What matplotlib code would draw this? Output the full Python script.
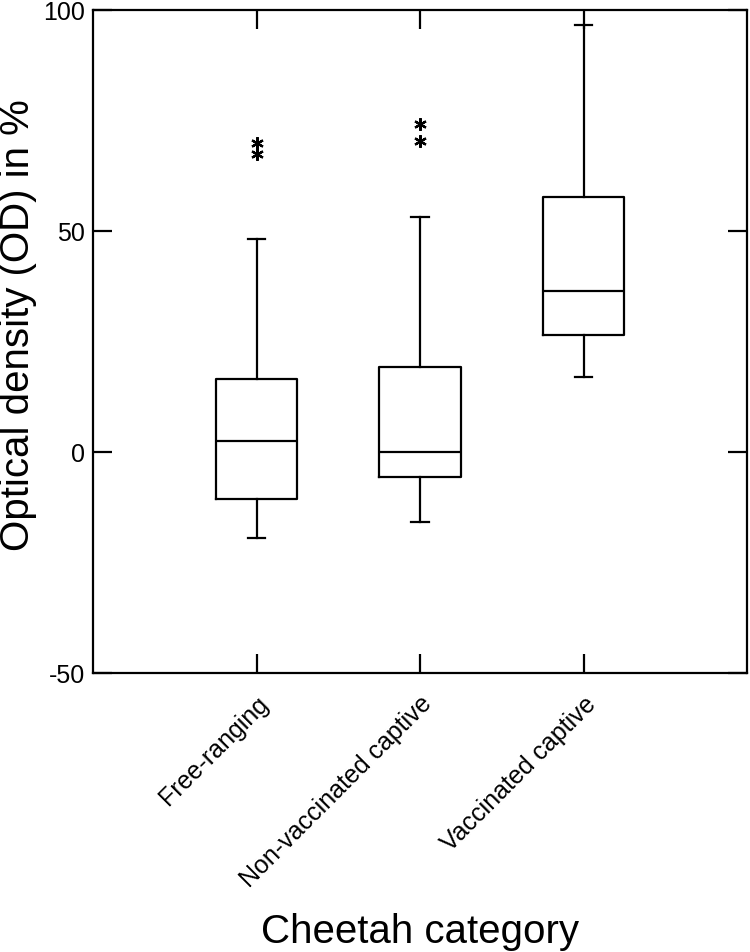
import matplotlib
matplotlib.use("Agg")
import matplotlib.pyplot as plt

categories = ["Free-ranging", "Non-vaccinated captive", "Vaccinated captive"]
whisker_low = [-19.5, -15.8, 17.0]
q1 = [-10.7, -5.7, 26.5]
median = [2.5, 0.0, 36.4]
q3 = [16.6, 19.2, 57.6]
whisker_high = [48.2, 53.2, 96.7]
outliers = [[70.0, 67.4], [74.1, 70.4], []]

plt.rcParams['font.family'] = ['Liberation Sans', 'DejaVu Sans']

fig = plt.figure(figsize=(7.5, 9.53), dpi=100)
ax = fig.add_axes([0.124, 0.2928, 0.872, 0.6957])

stats = []
for i, c in enumerate(categories):
    stats.append(dict(label=c, whislo=whisker_low[i], q1=q1[i], med=median[i],
                      q3=q3[i], whishi=whisker_high[i], fliers=outliers[i]))

lw = 1.6
ax.bxp(stats, positions=[1, 2, 3], widths=0.5, capwidths=0.11,
       boxprops=dict(color='black', linewidth=lw),
       whiskerprops=dict(color='black', linewidth=lw),
       capprops=dict(color='black', linewidth=lw),
       medianprops=dict(color='black', linewidth=lw),
       flierprops=dict(marker=(6, 2, 0), markersize=9, markeredgecolor='black',
                       markeredgewidth=1.6, linestyle='none'))

ax.set_xlim(0, 4)
ax.set_ylim(-50, 100)
ax.set_yticks([-50, 0, 50, 100])
ax.set_yticklabels(["-50", "0", "50", "100"])
ax.set_xticks([1, 2, 3])
ax.set_xticklabels(categories, rotation=45, ha='right', va='top',
                   rotation_mode='anchor', fontsize=18)
ax.tick_params(axis='both', direction='in', length=14, width=lw,
               top=True, right=True, labelsize=18, pad=6)
ax.tick_params(axis='x', labelsize=18, pad=13)
for s in ax.spines.values():
    s.set_linewidth(lw)

ax.set_ylabel("Optical density (OD) in %", fontsize=29)
ax.yaxis.set_label_coords(-0.086, 0.526)
ax.set_xlabel("Cheetah category", fontsize=29, labelpad=15)

fig.savefig("out.png", dpi=100)
